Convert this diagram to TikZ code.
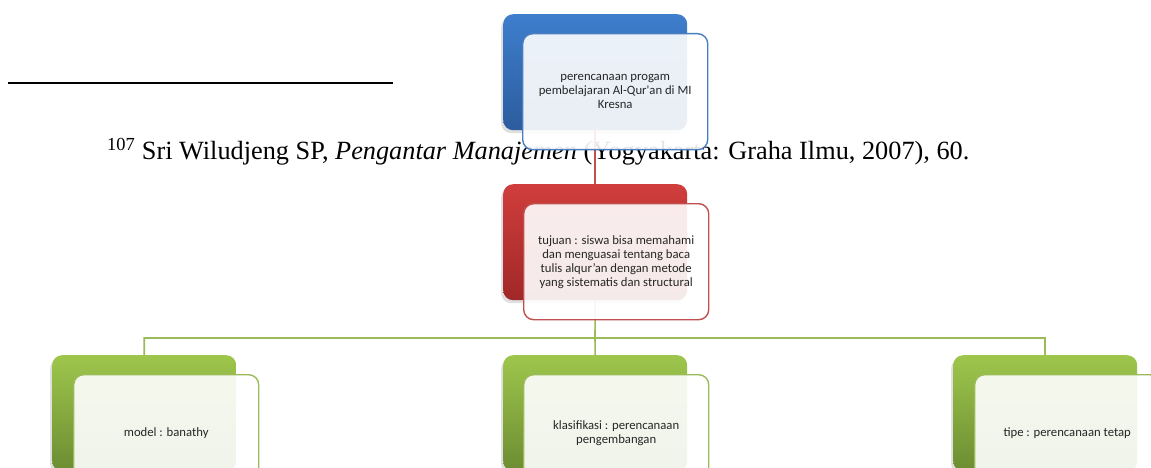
\documentclass[tikz,border=0pt]{standalone}
\usepackage{fontspec}
\setmainfont{Liberation Serif}
\newfontfamily\boxfont{Carlito}
\usetikzlibrary{shadows}
\definecolor{bluetop}{RGB}{62,126,205}
\definecolor{bluebot}{RGB}{44,92,158}
\definecolor{blueline}{RGB}{74,126,190}
\definecolor{redtop}{RGB}{208,62,60}
\definecolor{redbot}{RGB}{160,40,40}
\definecolor{redline}{RGB}{192,80,77}
\definecolor{greentop}{RGB}{158,198,76}
\definecolor{greenbot}{RGB}{108,140,50}
\definecolor{greenline}{RGB}{155,187,89}
\tikzset{
  backbox/.style={rounded corners=10pt, minimum width=184pt, minimum height=116pt,
    anchor=north west, inner sep=0pt, shading=axis, top color=#1top, bottom color=#1bot,
    drop shadow={opacity=0.25, shadow xshift=-2pt, shadow yshift=-3pt}},
  frontbox/.style={rounded corners=10pt, minimum width=185pt, minimum height=116pt,
    anchor=north west, inner sep=0pt, draw=#1line, line width=1.4pt, fill=white,
    fill opacity=0.9, text opacity=1, align=center,
    font=\boxfont\fontsize{12.7}{14}\selectfont, text=black!85},
  link/.style={line width=1.6pt, draw=#1line}
}
\begin{document}
\begin{tikzpicture}[x=1pt, y=-1pt]
\useasboundingbox (0,0) rectangle (1151,468);
\clip (0,0) rectangle (1151,468);
\fill[white] (0,0) rectangle (1151,468);

% footnote rule and footnote line
\draw[line width=1.7pt] (8,83) -- (393,83);
\node[anchor=base west, inner sep=0pt, font=\fontsize{26.3}{30}\selectfont] (note) at (107,160)
  {\textsuperscript{107} Sri Wiludjeng SP, \textit{Pengantar Manajemen} (Yogyakarta: Graha Ilmu, 2007), 60.};

% back boxes
\node[backbox=blue] (plan) at (503,14) {};
\node[backbox=red] (goal) at (503,184) {};
\node[backbox=green] (model) at (52,355) {};
\node[backbox=green] (klas) at (503,355) {};
\node[backbox=green] (tipe) at (953,355) {};

% connectors
\draw[link=red] (plan.south) -- (goal.north);
\coordinate (bus) at (595,338);
\draw[link=green] (goal.south) -- (bus) -| (model.north);
\draw[link=green] (bus) -| (tipe.north);
\draw[link=green] (bus) -- (klas.north);

% front text boxes
\node[frontbox=blue] (planT) at (522,33) {perencanaan progam\\pembelajaran Al-Qur'an di MI\\Kresna};
\node[frontbox=red] (goalT) at (523,203) {tujuan : siswa bisa memahami\\dan menguasai tentang baca\\tulis alqur’an dengan metode\\yang sistematis dan structural};
\node[frontbox=green] (modelT) at (73,374) {model : banathy};
\node[frontbox=green] (klasT) at (523,374) {klasifikasi : perencanaan\\pengembangan};
\node[frontbox=green] (tipeT) at (974,374) {tipe : perencanaan tetap};
\end{tikzpicture}
\end{document}
